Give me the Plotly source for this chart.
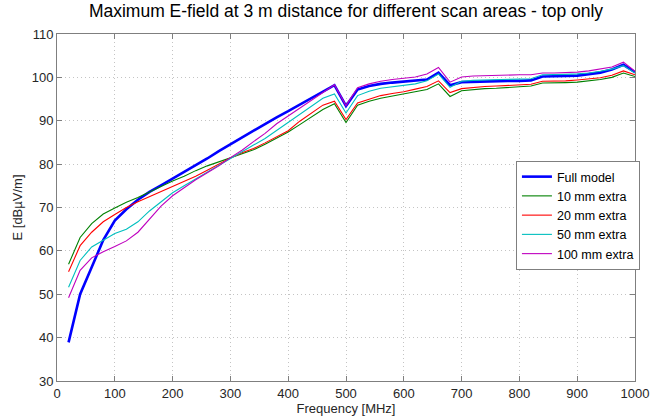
import plotly.graph_objects as go

freq = list(range(20, 1001, 20))

full_model = [38.9, 50.0, 56.2, 62.5, 67.0, 69.6, 71.8, 73.6, 75.1, 76.6,
              78.2, 79.7, 81.3, 83.0, 84.6, 86.1, 87.7, 89.3, 90.8, 92.2,
              93.7, 95.3, 96.8, 98.2, 93.4, 97.2, 98.0, 98.5, 98.8, 99.0,
              99.2, 99.5, 101.1, 98.2, 98.9, 99.0, 99.1, 99.1, 99.2, 99.2,
              99.3, 100.2, 100.2, 100.3, 100.4, 100.7, 101.1, 101.8, 102.9, 101.2]

extra_10 = [56.9, 63.1, 66.3, 68.5, 69.9, 71.2, 72.3, 73.6, 74.9, 76.1,
            77.2, 78.5, 79.6, 80.5, 81.5, 82.3, 83.3, 84.6, 86.0, 87.4,
            89.1, 90.9, 92.6, 93.9, 89.6, 93.6, 94.5, 95.2, 95.7, 96.2,
            96.7, 97.2, 98.5, 95.6, 96.9, 97.2, 97.4, 97.5, 97.7, 97.9,
            98.0, 98.7, 98.7, 98.8, 98.9, 99.2, 99.5, 100.0, 101.0, 100.2]

extra_20 = [55.2, 61.2, 64.3, 66.7, 68.4, 70.0, 71.3, 72.5, 73.7, 74.9,
            76.0, 77.2, 78.6, 80.0, 81.4, 82.6, 83.6, 84.9, 86.3, 87.7,
            89.9, 91.8, 93.6, 94.5, 90.3, 94.1, 95.0, 95.8, 96.3, 96.7,
            97.3, 97.9, 99.2, 96.5, 97.4, 97.7, 97.9, 98.0, 98.1, 98.3,
            98.4, 99.1, 99.1, 99.2, 99.4, 99.6, 99.9, 100.5, 101.5, 100.6]

extra_50 = [51.6, 57.8, 60.9, 62.5, 64.0, 65.0, 66.7, 69.2, 71.3, 73.4,
            75.0, 76.6, 78.1, 79.6, 81.2, 82.8, 84.4, 85.9, 87.8, 89.6,
            91.4, 93.3, 95.2, 96.2, 91.8, 95.8, 96.8, 97.5, 97.8, 98.1,
            98.5, 99.2, 100.8, 97.7, 99.1, 99.3, 99.4, 99.5, 99.5, 99.6,
            99.7, 100.6, 100.6, 100.7, 100.8, 101.0, 101.4, 101.9, 102.7, 101.0]

extra_100 = [49.2, 55.5, 58.4, 59.8, 61.0, 62.3, 64.3, 67.4, 70.3, 72.7,
             74.6, 76.4, 78.0, 79.6, 81.5, 83.2, 85.2, 87.1, 89.3, 91.1,
             93.0, 94.8, 96.4, 98.3, 93.5, 97.6, 98.5, 99.1, 99.5, 99.8,
             100.1, 100.8, 102.3, 98.9, 100.1, 100.3, 100.4, 100.5, 100.5, 100.6,
             100.6, 101.0, 101.0, 101.1, 101.2, 101.5, 101.9, 102.4, 103.5, 101.4]

series = [
    ("Full model", full_model, "#0000FF", 2.6),
    ("10 mm extra", extra_10, "#008000", 1.1),
    ("20 mm extra", extra_20, "#FF0000", 1.1),
    ("50 mm extra", extra_50, "#00BFBF", 1.1),
    ("100 mm extra", extra_100, "#BF00BF", 1.1),
]

x_ticks = list(range(0, 1001, 100))
y_ticks = list(range(30, 111, 10))

fig = go.Figure()
for name, vals, color, width in series:
    fig.add_trace(go.Scatter(x=freq, y=vals, mode="lines", name=name,
                             line=dict(color=color, width=width)))

axis_common = dict(
    showline=True, linecolor="#7f7f7f", linewidth=1, mirror="ticks",
    ticks="inside", ticklen=5, tickcolor="#7f7f7f",
    showgrid=True, gridcolor="#c4c4c4", griddash="1px,3px", gridwidth=1,
    zeroline=False, automargin=False,
    tickfont=dict(family="Liberation Sans, Arial, sans-serif", size=13, color="#262626"),
)

fig.update_layout(
    width=669, height=420,
    margin=dict(l=57, r=34, t=34, b=39),
    paper_bgcolor="white", plot_bgcolor="white",
    font=dict(family="Liberation Sans, Arial, sans-serif", size=13, color="#262626"),
    title=dict(text="Maximum E-field at 3 m distance for different scan areas - top only",
               x=0.5, xref="paper", y=0.974, yref="container", xanchor="center",
               yanchor="middle",
               font=dict(size=17.5, color="#000000")),
    xaxis=dict(range=[0, 1000], tickvals=x_ticks,
               title=dict(text="Frequency [MHz]", standoff=0, font=dict(size=13)),
               **axis_common),
    yaxis=dict(range=[30, 110], tickvals=y_ticks,
               title=dict(text="E [dBµV/m]", standoff=6, font=dict(size=13)),
               **axis_common),
    legend=dict(x=0.794, y=0.634, xanchor="left", yanchor="top",
                bgcolor="white", bordercolor="#7f7f7f", borderwidth=1,
                font=dict(size=12.5, color="#000000"), tracegroupgap=0,
                itemwidth=30),
    showlegend=True,
)

fig.write_html("out.html", config={"displayModeBar": False},
               post_script="document.body.style.margin='0';document.body.style.overflow='hidden';")
